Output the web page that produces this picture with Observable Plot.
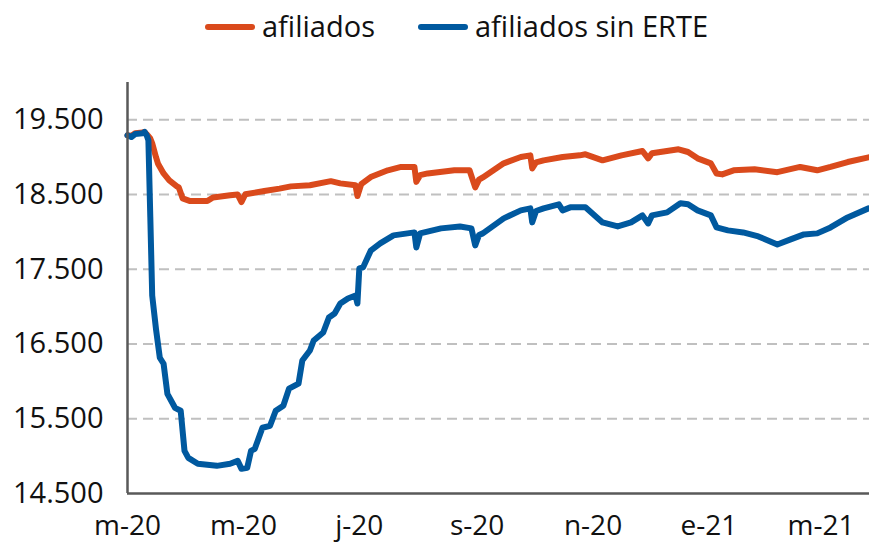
<!DOCTYPE html>
<html>
<head>
<meta charset="utf-8">
<script src="https://cdn.jsdelivr.net/npm/d3@7"></script>
<script src="https://cdn.jsdelivr.net/npm/@observablehq/plot@0.6"></script>
<style>
  html, body { margin: 0; padding: 0; background: #fff; }
  body { width: 869px; height: 543px; overflow: hidden; font-family: "Open Sans", sans-serif; }
  #legend { position: relative; height: 60px; width: 869px; }
  #legend .sw { position: absolute; height: 6px; width: 50px; border-radius: 3px; top: 24px; }
  #legend .tx { position: absolute; font-size: 29px; line-height: 29px; top: 11px; color: #111; white-space: nowrap; }
  #chart svg { display: block; }
</style>
</head>
<body>
<div id="legend"></div>
<div id="chart"></div>
<script>
// ---- Data (values in thousands of affiliates) ----
const seriesNames = ["afiliados", "afiliados sin ERTE"];
const seriesColors = ["#DA4A1C", "#00599F"];

const afiliadosDates = [
  "2020-03-01","2020-03-03","2020-03-05","2020-03-09","2020-03-10","2020-03-11","2020-03-13","2020-03-14",
  "2020-03-16","2020-03-17","2020-03-20","2020-03-23","2020-03-27","2020-03-28","2020-03-30","2020-04-03",
  "2020-04-12","2020-04-15","2020-04-24","2020-04-28","2020-04-30","2020-05-02","2020-05-12","2020-05-20",
  "2020-05-26","2020-06-05","2020-06-16","2020-06-21","2020-06-29","2020-06-30","2020-07-02","2020-07-07",
  "2020-07-16","2020-07-23","2020-07-30","2020-07-31","2020-08-02","2020-08-06","2020-08-20","2020-08-28",
  "2020-08-31","2020-09-02","2020-09-04","2020-09-15","2020-09-24","2020-09-29","2020-09-30","2020-10-02",
  "2020-10-06","2020-10-16","2020-10-25","2020-10-28","2020-11-06","2020-11-16","2020-11-27","2020-11-30",
  "2020-12-02","2020-12-16","2020-12-21","2020-12-26","2021-01-02","2021-01-05","2021-01-08","2021-01-14",
  "2021-01-25","2021-02-06","2021-02-18","2021-02-27","2021-03-06","2021-03-15","2021-03-26"
];
const afiliadosValues = [
  19293,19285,19320,19330,19338,19310,19250,19185,
  19000,18917,18783,18690,18610,18596,18450,18413,
  18413,18462,18490,18500,18400,18505,18547,18580,
  18610,18625,18680,18650,18625,18480,18640,18735,
  18825,18870,18870,18670,18760,18783,18825,18825,
  18596,18700,18730,18918,19003,19025,18850,18930,
  18958,19003,19025,19039,18958,19025,19083,18985,
  19052,19106,19070,18985,18918,18783,18770,18825,
  18838,18800,18870,18825,18870,18936,18998
];

const sinErteDates = [
  "2020-03-01","2020-03-03","2020-03-05","2020-03-09","2020-03-10","2020-03-11","2020-03-12","2020-03-13",
  "2020-03-14","2020-03-16","2020-03-18","2020-03-20","2020-03-22","2020-03-26","2020-03-29","2020-03-31",
  "2020-04-02","2020-04-07","2020-04-17","2020-04-24","2020-04-28","2020-04-30","2020-05-03","2020-05-05",
  "2020-05-07","2020-05-11","2020-05-15","2020-05-18","2020-05-22","2020-05-25","2020-05-30","2020-06-01",
  "2020-06-05","2020-06-07","2020-06-12","2020-06-15","2020-06-18","2020-06-21","2020-06-25","2020-06-29",
  "2020-06-30","2020-07-01","2020-07-03","2020-07-07","2020-07-12","2020-07-19","2020-07-30","2020-07-31",
  "2020-08-02","2020-08-13","2020-08-23","2020-08-29","2020-08-31","2020-09-02","2020-09-04","2020-09-15",
  "2020-09-24","2020-09-29","2020-09-30","2020-10-02","2020-10-06","2020-10-14","2020-10-16","2020-10-20",
  "2020-10-28","2020-11-06","2020-11-14","2020-11-21","2020-11-27","2020-11-30","2020-12-02","2020-12-10",
  "2020-12-17","2020-12-21","2020-12-26","2021-01-02","2021-01-05","2021-01-11","2021-01-19","2021-01-27",
  "2021-02-06","2021-02-13","2021-02-20","2021-02-27","2021-03-06","2021-03-15","2021-03-26"
];
const sinErteValues = [
  19293,19270,19310,19320,19338,19300,19226,18200,
  17150,16700,16317,16236,15834,15647,15607,15070,
  14977,14897,14870,14897,14937,14830,14843,15070,
  15098,15380,15406,15607,15675,15903,15970,16279,
  16413,16547,16654,16855,16909,17043,17110,17150,
  17043,17512,17526,17750,17847,17954,17994,17793,
  17981,18048,18074,18048,17820,17960,17981,18182,
  18289,18316,18128,18280,18316,18370,18289,18329,
  18329,18128,18074,18128,18222,18114,18222,18262,
  18383,18370,18289,18222,18061,18021,17994,17940,
  17833,17900,17967,17981,18061,18195,18316
];

const yTicks = [14500, 15500, 16500, 17500, 18500, 19500];
const gridValues = [15500, 16500, 17500, 18500, 19500];
const xTickDates = ["2020-03-01","2020-05-01","2020-07-01","2020-09-01","2020-11-01","2021-01-01","2021-03-01"];
const xTickLabels = ["m-20","m-20","j-20","s-20","n-20","e-21","m-21"];
const xDomain = ["2020-03-01", "2021-03-26T12:00"];
const yDomain = [14500, 20000];

// ---- Build tables ----
const parse = s => new Date(s + (s.length === 10 ? "T00:00:00Z" : ":00Z"));
const afil = afiliadosDates.map((d, i) => ({date: parse(d), value: afiliadosValues[i]}));
const sinE = sinErteDates.map((d, i) => ({date: parse(d), value: sinErteValues[i]}));
const tickDates = xTickDates.map(parse);
const labelFor = new Map(tickDates.map((d, i) => [+d, xTickLabels[i]]));
const fmt = d3.formatLocale({decimal: ",", thousands: ".", grouping: [3], currency: ["", "€"]}).format(",");

// ---- Legend ----
const legend = document.getElementById("legend");
const legendPos = [{sw: 205, tx: 262}, {sw: 418, tx: 475}];
seriesNames.forEach((name, i) => {
  const sw = document.createElement("div");
  sw.className = "sw"; sw.style.left = legendPos[i].sw + "px"; sw.style.background = seriesColors[i];
  const tx = document.createElement("div");
  tx.className = "tx"; tx.style.left = legendPos[i].tx + "px"; tx.textContent = name;
  legend.appendChild(sw); legend.appendChild(tx);
});

// ---- Chart ----
const axisColor = "#595959";
const chart = Plot.plot({
  width: 869,
  height: 483,
  marginLeft: 127,
  marginRight: 0,
  marginTop: 22,
  marginBottom: 50,
  style: {fontFamily: "'Open Sans', sans-serif", color: "#111", background: "transparent", overflow: "visible"},
  x: {type: "utc", domain: xDomain.map(parse)},
  y: {domain: yDomain},
  marks: [
    Plot.ruleY(gridValues, {stroke: "#c0c0c0", strokeWidth: 2, strokeDasharray: "10,6"}),
    Plot.axisY({ticks: yTicks, tickSize: 0, tickPadding: 24, fontSize: 29, tickFormat: fmt, label: null}),
    Plot.axisX({ticks: tickDates, tickSize: 0, tickPadding: 22, fontSize: 28, tickFormat: d => labelFor.get(+d), label: null}),
    Plot.line(afil, {x: "date", y: "value", stroke: seriesColors[0], strokeWidth: 6, strokeLinejoin: "round", strokeLinecap: "round"}),
    Plot.line(sinE, {x: "date", y: "value", stroke: seriesColors[1], strokeWidth: 6, strokeLinejoin: "round", strokeLinecap: "round"}),
    Plot.ruleY([yDomain[0]], {stroke: axisColor, strokeWidth: 2.5}),
    Plot.ruleX([parse(xDomain[0])], {stroke: axisColor, strokeWidth: 2.5})
  ]
});
document.getElementById("chart").appendChild(chart);
</script>
</body>
</html>
